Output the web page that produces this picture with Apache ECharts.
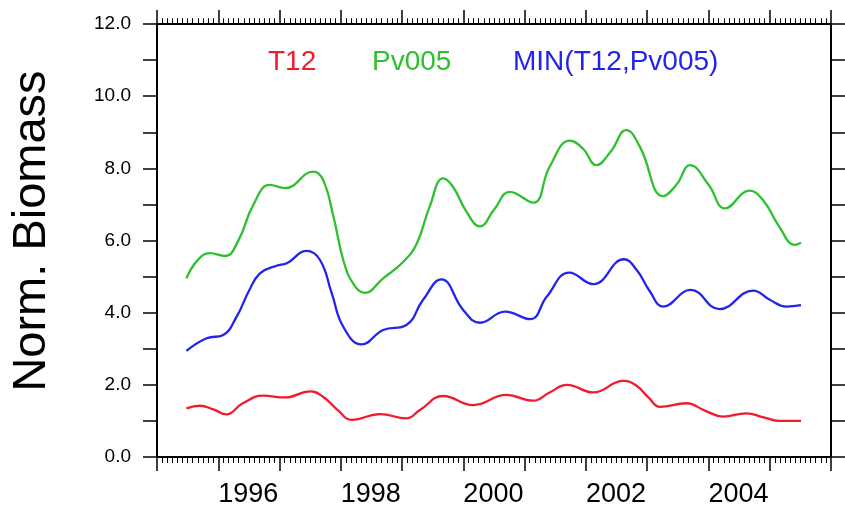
<!DOCTYPE html>
<html>
<head>
<meta charset="utf-8">
<style>
  html, body { margin: 0; padding: 0; background: #ffffff; }
  #chart { width: 845px; height: 509px; }
</style>
<script src="https://cdn.jsdelivr.net/npm/echarts@6/dist/echarts.min.js"></script>
</head>
<body>
<div id="chart"></div>
<script>
// Normalised biomass time series, 1995-2005 (decimal years).
const t12Years = [1995.48, 1995.70, 1995.92, 1996.13, 1996.40, 1996.73, 1997.09, 1997.50, 1997.71, 1997.95,
                  1998.18, 1998.64, 1999.07, 1999.29, 1999.67, 2000.16, 2000.70, 2001.14, 2001.40, 2001.69,
                  2002.12, 2002.61, 2002.83, 2003.02, 2003.21, 2003.64, 2003.95, 2004.24, 2004.62, 2004.90,
                  2005.16, 2005.51];
const t12Values = [1.35, 1.42, 1.32, 1.18, 1.49, 1.70, 1.65, 1.82, 1.67, 1.30,
                   1.03, 1.19, 1.07, 1.30, 1.69, 1.44, 1.72, 1.56, 1.78, 2.00,
                   1.79, 2.11, 1.97, 1.65, 1.39, 1.49, 1.28, 1.12, 1.21, 1.10,
                   1.00, 1.00];

const pv005Years = [1995.48, 1995.66, 1995.86, 1996.11, 1996.33, 1996.57, 1996.84, 1997.09, 1997.55, 1997.71,
                    1997.88, 1998.04, 1998.20, 1998.39, 1998.69, 1999.02, 1999.24, 1999.45, 1999.67, 1999.83,
                    2000.05, 2000.27, 2000.50, 2000.76, 2001.14, 2001.41, 2001.74, 2001.95, 2002.17, 2002.40,
                    2002.66, 2002.88, 2003.26, 2003.48, 2003.70, 2004.00, 2004.27, 2004.67, 2004.89, 2005.15,
                    2005.41, 2005.51];
const pv005Values = [4.95, 5.45, 5.65, 5.57, 6.01, 6.98, 7.54, 7.45, 7.91, 7.68,
                     6.66, 5.46, 4.81, 4.55, 4.95, 5.41, 5.92, 6.94, 7.72, 7.49,
                     6.80, 6.39, 6.85, 7.35, 7.05, 8.05, 8.77, 8.55, 8.09, 8.45,
                     9.06, 8.60, 7.23, 7.55, 8.09, 7.55, 6.89, 7.38, 7.12, 6.40,
                     5.88, 5.94];

const minYears = [1995.48, 1995.81, 1996.08, 1996.30, 1996.50, 1996.68, 1996.95, 1997.12, 1997.44, 1997.66,
                  1997.85, 1998.04, 1998.34, 1998.69, 1999.07, 1999.34, 1999.64, 2000.00, 2000.27, 2000.68,
                  2001.09, 2001.36, 2001.73, 2002.12, 2002.62, 2002.83, 2003.04, 2003.26, 2003.71, 2004.18,
                  2004.73, 2005.00, 2005.27, 2005.51];
const minValues = [2.94, 3.29, 3.38, 3.89, 4.60, 5.09, 5.30, 5.37, 5.71, 5.46,
                   4.55, 3.61, 3.12, 3.52, 3.66, 4.35, 4.92, 4.07, 3.72, 4.03,
                   3.82, 4.44, 5.11, 4.79, 5.48, 5.18, 4.60, 4.17, 4.63, 4.10,
                   4.61, 4.36, 4.17, 4.21];

const seriesNames = ['T12', 'Pv005', 'MIN(T12,Pv005)'];
const seriesColors = ['#f21b2d', '#2fc02f', '#2323ee'];
const yTickLabels = ['0.0', '2.0', '4.0', '6.0', '8.0', '10.0', '12.0'];
const xTickLabels = ['1996', '1998', '2000', '2002', '2004'];

const zip = (xs, ys) => xs.map((x, i) => [x, ys[i]]);
const seriesData = [zip(t12Years, t12Values), zip(pv005Years, pv005Values), zip(minYears, minValues)];

const FONT = 'Liberation Sans, Arial, Helvetica, sans-serif';

// Frame sides drawn as axes: line + outward yearly ticks + monthly minor ticks on x.
function frameX(position, minorLength) {
  return {
    type: 'value', min: 1995, max: 2006, interval: 1, position: position,
    axisLine: { show: true, onZero: false, lineStyle: { color: '#000', width: 2 } },
    axisTick: { show: true, inside: false, length: 14, lineStyle: { color: '#000', width: 1.5 } },
    minorTick: { show: true, splitNumber: 12, length: minorLength, lineStyle: { color: '#000', width: 1 } },
    axisLabel: { show: false },
    splitLine: { show: false }, minorSplitLine: { show: false }
  };
}
function frameY(position) {
  return {
    type: 'value', min: 0, max: 12, interval: 1, position: position,
    axisLine: { show: true, onZero: false, lineStyle: { color: '#000', width: 2 } },
    axisTick: { show: true, inside: false, length: 14, lineStyle: { color: '#000', width: 1.5 } },
    axisLabel: { show: false },
    splitLine: { show: false }
  };
}

const legendLefts = [268, 372, 513];

const chart = echarts.init(document.getElementById('chart'), null, { renderer: 'canvas' });
chart.setOption({
  backgroundColor: '#ffffff',
  animation: false,
  grid: { left: 157, right: 14, top: 24, bottom: 52, containLabel: false },
  legend: seriesNames.map((name, i) => ({
    data: [name],
    left: legendLefts[i] - 5, top: 48,
    padding: 0, itemWidth: 0, itemHeight: 0, icon: 'rect',
    selectedMode: false,
    textStyle: { color: seriesColors[i], fontSize: 28, fontFamily: FONT }
  })),
  xAxis: [
    // year labels left-aligned on the January tick
    Object.assign(frameX('bottom', 6), {
      axisLabel: {
        show: true, align: 'left', margin: 24, fontSize: 27, color: '#000', fontFamily: FONT,
        formatter: v => (xTickLabels.indexOf(String(v)) >= 0 ? String(v) : '')
      }
    }),
    frameX('top', 5.8)
  ],
  yAxis: [
    Object.assign(frameY('left'), {
      axisLabel: {
        show: true, margin: 26, fontSize: 19, color: '#000', fontFamily: FONT,
        formatter: v => (yTickLabels.indexOf(v.toFixed(1)) >= 0 && v % 2 === 0 ? v.toFixed(1) : '')
      }
    }),
    frameY('right')
  ],
  graphic: [{
    type: 'text',
    x: 32, y: 231, rotation: Math.PI / 2,
    style: {
      text: 'Norm. Biomass', fill: '#000', font: '47px ' + FONT,
      textAlign: 'center', textVerticalAlign: 'middle'
    }
  }],
  series: seriesNames.map((name, i) => ({
    name: name, type: 'line', xAxisIndex: 0, yAxisIndex: 0,
    data: seriesData[i], smooth: 0.45, showSymbol: false,
    lineStyle: { color: seriesColors[i], width: 2.3 },
    itemStyle: { color: seriesColors[i] }
  }))
});
</script>
</body>
</html>
